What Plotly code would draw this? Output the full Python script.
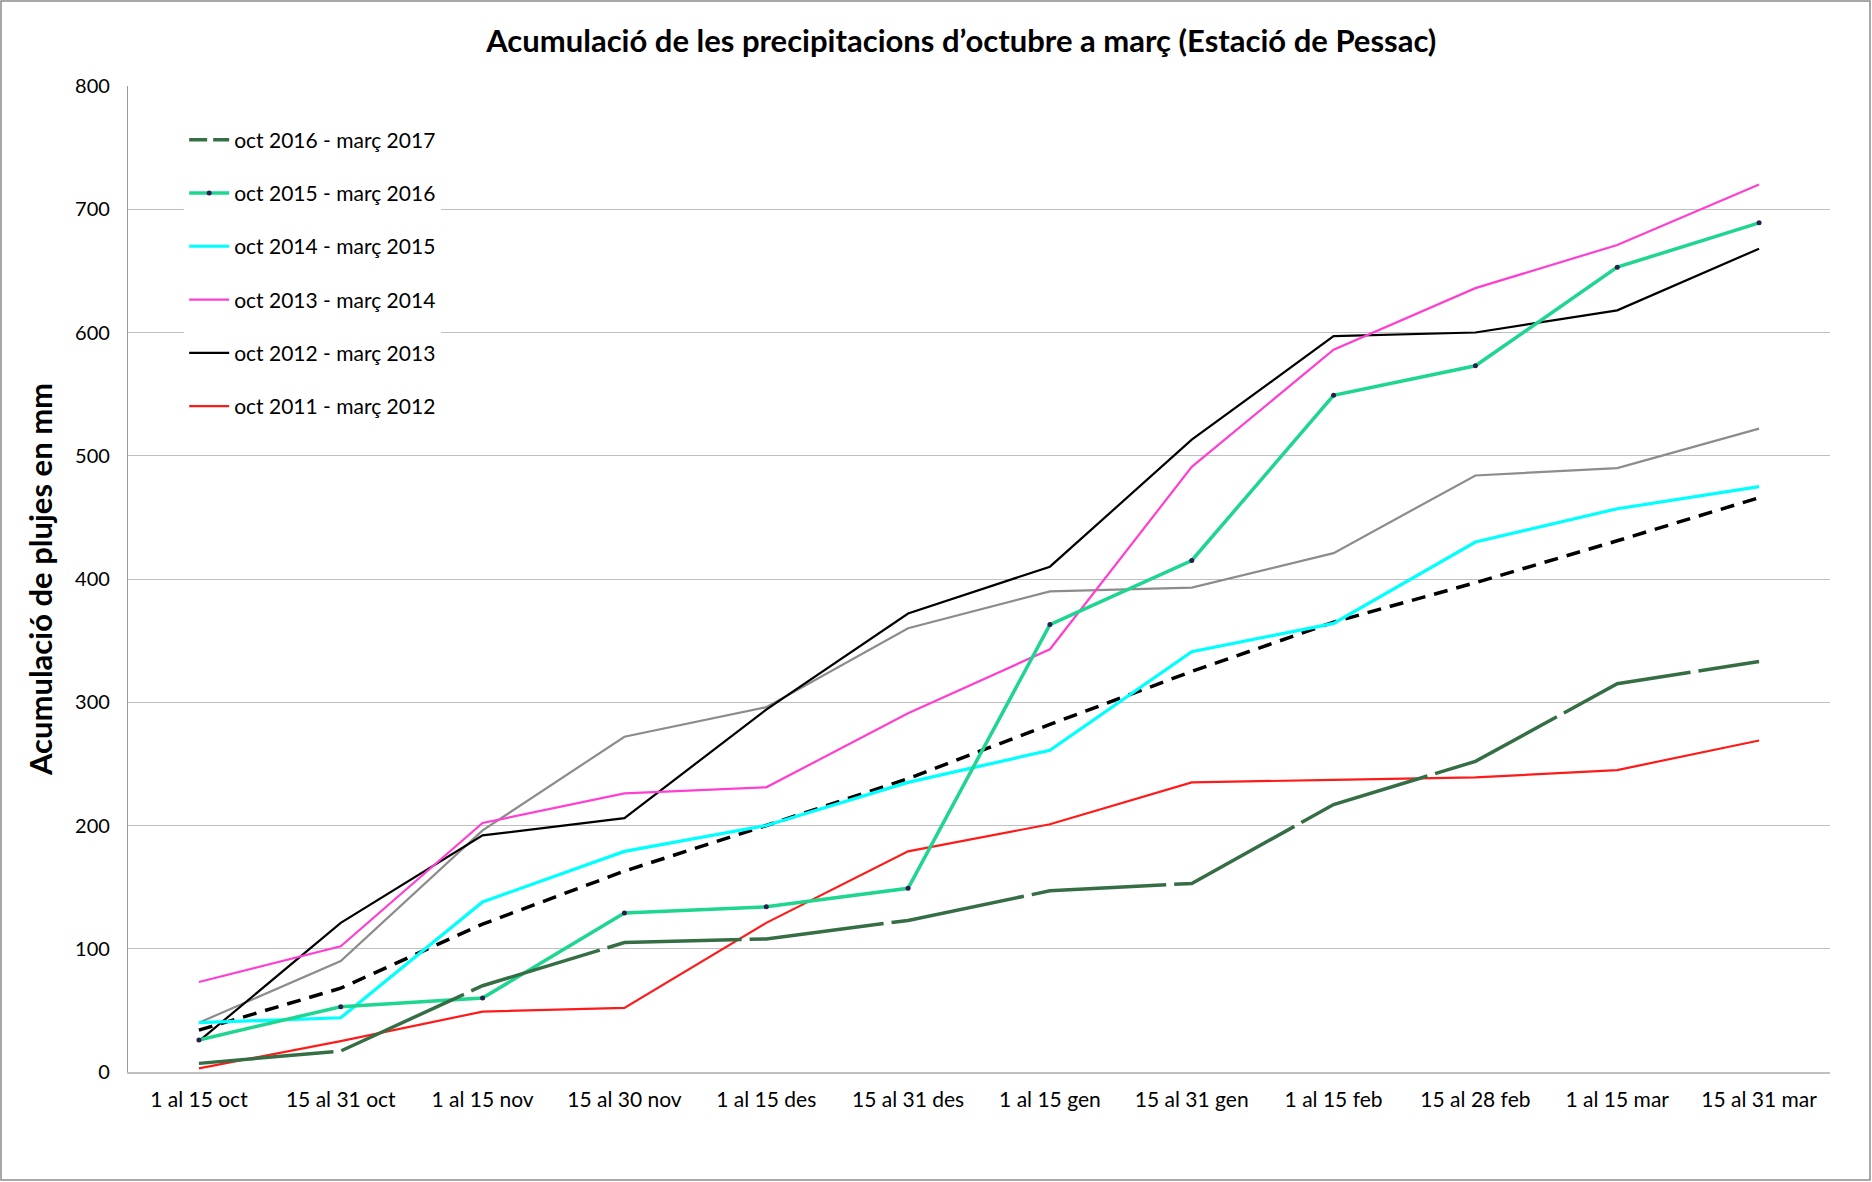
import plotly.graph_objects as go

categories = ["1 al 15 oct", "15 al 31 oct", "1 al 15 nov", "15 al 30 nov", "1 al 15 des",
              "15 al 31 des", "1 al 15 gen", "15 al 31 gen", "1 al 15 feb", "15 al 28 feb",
              "1 al 15 mar", "15 al 31 mar"]

s2016 = [7, 17, 70, 105, 108, 123, 147, 153, 217, 252, 315, 333]
s2015 = [26, 53, 60, 129, 134, 149, 363, 415, 549, 573, 653, 689]
s2014 = [40, 44, 138, 179, 200, 235, 261, 341, 364, 430, 457, 475]
s2013 = [73, 102, 202, 226, 231, 291, 343, 491, 586, 636, 671, 720]
s2012 = [25, 121, 192, 206, 294, 372, 410, 513, 597, 600, 618, 668]
s2011 = [3, 25, 49, 52, 121, 179, 201, 235, 237, 239, 245, 269]
grey_series = [40, 90, 196, 272, 296, 360, 390, 393, 421, 484, 490, 522]
mean_series = [34, 68, 120, 163, 200, 238, 282, 325, 365, 397, 431, 466]

y_ticks = [0, 100, 200, 300, 400, 500, 600, 700, 800]

FONT = "Lato"
fig = go.Figure()

# unlabeled series first
fig.add_trace(go.Scatter(x=categories, y=grey_series, mode="lines", showlegend=False,
                         line=dict(color="#8C8C8C", width=2.2)))
fig.add_trace(go.Scatter(x=categories, y=mean_series, mode="lines", showlegend=False,
                         line=dict(color="#000000", width=3.5, dash="14px,9px")))

DKGREEN = "#356E45"
legend_series = [
    ("oct 2011 - març 2012", s2011, dict(color="#FF1A1A", width=2.2), None),
    ("oct 2012 - març 2013", s2012, dict(color="#000000", width=2.2), None),
    ("oct 2013 - març 2014", s2013, dict(color="#FF3FD2", width=2.2), None),
    ("oct 2014 - març 2015", s2014, dict(color="#00FFFF", width=3.2), None),
    ("oct 2015 - març 2016", s2015, dict(color="#1ED690", width=3.5),
     dict(color="#2A1E4E", size=5)),
]
n = len(legend_series) + 1
for i, (name, vals, line, marker) in enumerate(legend_series):
    fig.add_trace(go.Scatter(
        x=categories, y=vals, name=name,
        mode="lines+markers" if marker else "lines",
        line=line, marker=marker,
        legendgroup=f"g{i}", legendrank=n - i,
    ))

# 2016-2017: very long dashes in the plot, short dashes in the legend
fig.add_trace(go.Scatter(x=categories, y=s2016, mode="lines", showlegend=False,
                         line=dict(color=DKGREEN, width=3.5, dash="135px,8px"),
                         legendgroup="g5"))
fig.add_trace(go.Scatter(x=[None], y=[None], mode="lines", name="oct 2016 - març 2017",
                         line=dict(color=DKGREEN, width=3.5, dash="18px,6px"),
                         legendgroup="g5", legendrank=1))

W, H = 1872, 1182
L, R, T, B = 128, 42, 86, 110
pw, ph = W - L - R, H - T - B

fig.update_layout(
    width=W, height=H,
    margin=dict(l=L, r=R, t=T, b=B),
    paper_bgcolor="white", plot_bgcolor="white",
    font=dict(family=FONT, color="#000000", size=21),
    title=dict(text="<b>Acumulació de les precipitacions d’octubre a març (Estació de Pessac)</b>",
               x=0.5135, xanchor="center", y=0.965, yanchor="middle",
               font=dict(family=FONT, size=31, color="#000000")),
    showlegend=True,
    legend=dict(x=0.033, y=0.966, xanchor="left", yanchor="top",
                bgcolor="white", borderwidth=0,
                font=dict(family=FONT, size=21, color="#000000"),
                traceorder="grouped", tracegroupgap=23,
                itemwidth=40),
    xaxis=dict(type="category", range=[-0.5, 11.5], showgrid=False,
               showline=True, linecolor="#BFBFBF", linewidth=1.5,
               ticks="", ticklabelstandoff=8,
               tickfont=dict(family=FONT, size=21, color="#000000"),
               fixedrange=True),
    yaxis=dict(range=[0, 800], tickvals=y_ticks, showgrid=True,
               gridcolor="#BFBFBF", gridwidth=1.2,
               showline=True, linecolor="#999999", linewidth=1.2,
               zeroline=False, ticks="", ticklabelstandoff=13,
               tickfont=dict(family=FONT, size=20, color="#000000"),
               title=dict(text="<b>Acumulació de plujes en mm</b>",
                          font=dict(family=FONT, size=31, color="#000000"),
                          standoff=13),
               fixedrange=True),
)

# thin border around the whole chart
fig.add_shape(type="rect", xref="paper", yref="paper",
              x0=(1 - L) / pw, x1=(W - 2 - L) / pw,
              y0=-(B - 2) / ph, y1=(H - B - 1) / ph,
              line=dict(color="#8C8C8C", width=1.5), layer="below")

fig.write_html("out.html", config={"displayModeBar": False},
               post_script="document.body.style.margin='0px';")
